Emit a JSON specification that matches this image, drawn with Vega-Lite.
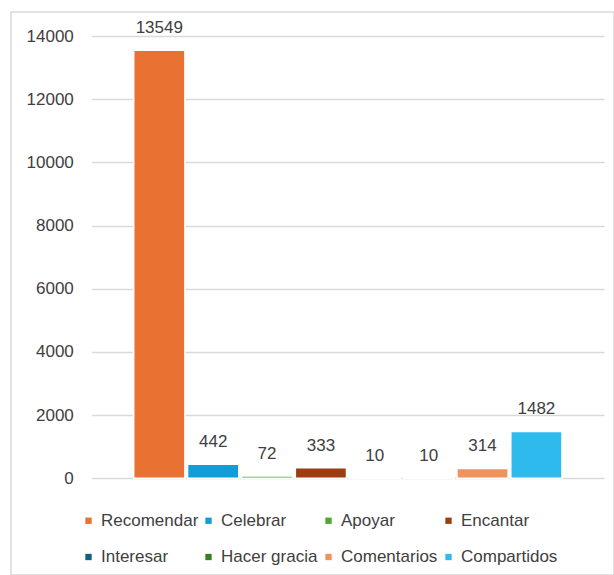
{
  "$schema": "https://vega.github.io/schema/vega-lite/v6.json",
  "autosize": {"type": "none"},
  "padding": {"left": 11, "top": 12, "right": 0, "bottom": 0},
  "width": 603,
  "height": 563,
  "background": "white",
  "view": {"stroke": "#d9d9d9", "strokeWidth": 1.5, "fill": "white"},
  "config": {
    "font": "Liberation Sans",
    "axis": {"labelFont": "Liberation Sans"},
    "legend": {"labelFont": "Liberation Sans"}
  },
  "data": {
    "values": [
      {"reaccion": "Recomendar", "total": 13549},
      {"reaccion": "Celebrar", "total": 442},
      {"reaccion": "Apoyar", "total": 72},
      {"reaccion": "Encantar", "total": 333},
      {"reaccion": "Interesar", "total": 10},
      {"reaccion": "Hacer gracia", "total": 10},
      {"reaccion": "Comentarios", "total": 314},
      {"reaccion": "Compartidos", "total": 1482}
    ]
  },
  "encoding": {
    "x": {
      "field": "reaccion",
      "type": "nominal",
      "sort": null,
      "scale": {"range": [80.7, 593], "paddingInner": 0.05, "paddingOuter": 0.78},
      "axis": null
    },
    "y": {
      "field": "total",
      "type": "quantitative",
      "scale": {"domain": [-3061, 14760], "nice": false, "zero": false},
      "axis": {
        "values": [0, 2000, 4000, 6000, 8000, 10000, 12000, 14000],
        "format": "d",
        "title": null,
        "domain": false,
        "ticks": false,
        "tickSize": 0,
        "labelPadding": -62.3,
        "labelAlign": "right",
        "labelFontSize": 17,
        "labelColor": "#404040",
        "grid": true,
        "gridColor": "#d9d9d9",
        "gridWidth": 1.3
      }
    }
  },
  "layer": [
    {
      "mark": {"type": "bar", "stroke": "white", "strokeWidth": 1.5},
      "encoding": {
        "y2": {"datum": 0},
        "color": {
          "field": "reaccion",
          "type": "nominal",
          "sort": null,
          "scale": {
            "domain": ["Recomendar", "Celebrar", "Apoyar", "Encantar", "Interesar", "Hacer gracia", "Comentarios", "Compartidos"],
            "range": ["#E97132", "#0F9ED5", "#4EA72E", "#9C3E12", "#10607F", "#3B7D23", "#F0925E", "#2FBAEE"]
          },
          "legend": {
            "title": null,
            "orient": "none",
            "legendX": 69,
            "legendY": 500,
            "direction": "horizontal",
            "columns": 4,
            "gridAlign": "all",
            "columnPadding": 1,
            "rowPadding": 18.5,
            "padding": 0,
            "symbolType": "square",
            "symbolSize": 40,
            "symbolStrokeWidth": 0,
            "labelOffset": 4,
            "labelFontSize": 17,
            "labelColor": "#404040",
            "labelLimit": 200
          }
        }
      }
    },
    {
      "mark": {"type": "text", "baseline": "middle", "align": "center", "dy": -22, "fontSize": 17, "color": "#404040"},
      "encoding": {
        "text": {"field": "total", "type": "quantitative", "format": "d"}
      }
    }
  ]
}
